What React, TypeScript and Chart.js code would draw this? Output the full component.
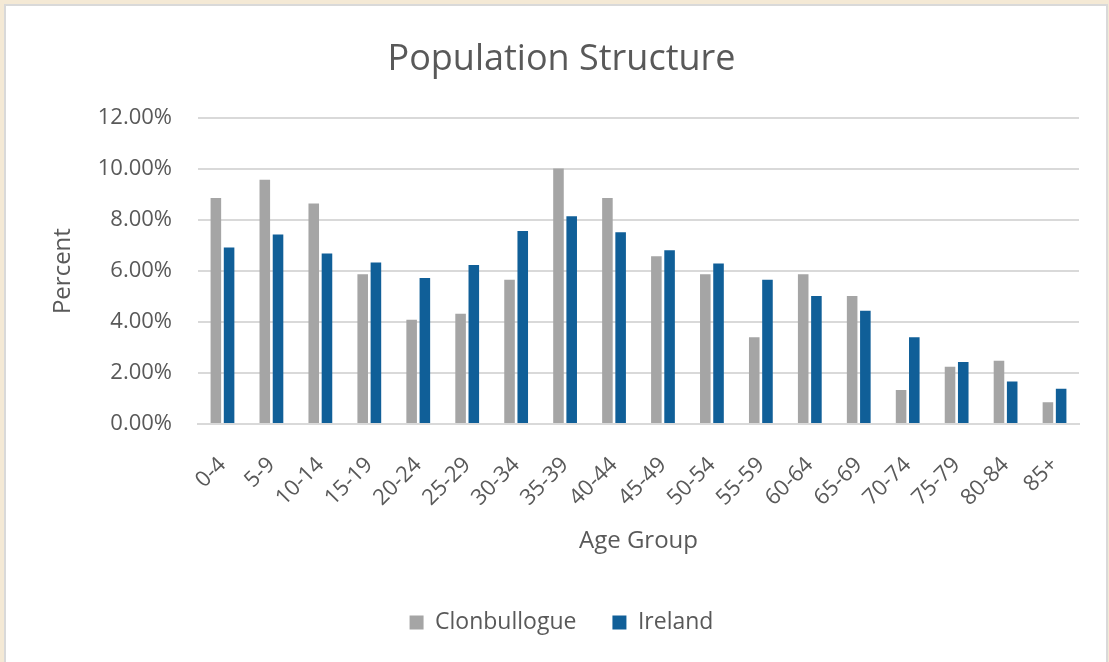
import React, { useEffect, useRef } from "react";
import { Chart, registerables } from "chart.js";

Chart.register(...registerables);

const ageGroups = ["0-4", "5-9", "10-14", "15-19", "20-24", "25-29", "30-34", "35-39", "40-44", "45-49", "50-54", "55-59", "60-64", "65-69", "70-74", "75-79", "80-84", "85+"];
const clonbullogue = [8.87, 9.58, 8.65, 5.88, 4.09, 4.33, 5.66, 10.03, 8.87, 6.58, 5.88, 3.40, 5.88, 5.02, 1.33, 2.25, 2.48, 0.85];
const ireland = [6.93, 7.44, 6.69, 6.34, 5.73, 6.24, 7.57, 8.15, 7.52, 6.82, 6.30, 5.66, 5.02, 4.44, 3.40, 2.43, 1.67, 1.38];
const yTicks = [0, 2, 4, 6, 8, 10, 12];

const FONT = "'Open Sans', 'Noto Sans', sans-serif";
const TEXT = "#595959";
const GRID = "#D9D9D9";

export default function App() {
  const ref = useRef<HTMLCanvasElement | null>(null);
  useEffect(() => {
    if (!ref.current) return;
    const chart = new Chart(ref.current, {
      type: "bar",
      data: {
        labels: ageGroups,
        datasets: [
          { label: "Clonbullogue", data: clonbullogue, backgroundColor: "#A5A5A5", categoryPercentage: 0.54, barPercentage: 0.8 },
          { label: "Ireland", data: ireland, backgroundColor: "#105F98", categoryPercentage: 0.54, barPercentage: 0.8 },
        ],
      },
      options: {
        animation: false,
        responsive: false,
        layout: { padding: { left: 38, right: 27, top: 0, bottom: 42 } },
        plugins: {
          title: {
            display: true,
            text: "Population Structure",
            color: TEXT,
            font: { family: FONT, size: 36, weight: "normal" },
            padding: { top: 32, bottom: 37 },
          },
          legend: {
            position: "bottom",
            labels: {
              color: TEXT,
              font: { family: FONT, size: 23 },
              boxWidth: 14,
              boxHeight: 14,
              padding: 36,
            },
          },
          tooltip: { enabled: false },
        },
        scales: {
          x: {
            grid: { display: false, drawTicks: false },
            border: { display: true, color: GRID, width: 2 },
            ticks: {
              color: TEXT,
              font: { family: FONT, size: 22 },
              minRotation: 45,
              maxRotation: 45,
              padding: 28,
            },
            title: {
              display: true,
              text: "Age Group",
              color: TEXT,
              font: { family: FONT, size: 24 },
              padding: { top: 4, bottom: 19 },
            },
            afterFit: (scale: any) => { scale.height = 151; },
          },
          y: {
            min: 0,
            max: 12,
            afterBuildTicks: (scale: any) => { scale.ticks = yTicks.map((v) => ({ value: v })); },
            grid: { color: GRID, lineWidth: 2, drawTicks: false },
            border: { display: false },
            ticks: {
              color: TEXT,
              font: { family: FONT, size: 22 },
              padding: 26,
              callback: (v: any) => Number(v).toFixed(2) + "%",
            },
            title: {
              display: true,
              text: "Percent",
              color: TEXT,
              font: { family: FONT, size: 24 },
              padding: { top: 5, bottom: 4 },
            },
            afterFit: (scale: any) => { scale.width = 154; },
          },
        },
      },
    });
    return () => chart.destroy();
  }, []);

  return (
    <div style={{ position: "fixed", left: 0, top: 0, width: 1109, height: 662, background: "#F4E9D5", overflow: "hidden" }}>
      <div style={{ position: "absolute", left: 4, top: 4, width: 1100, height: 680, border: "2px solid #D9D9D9", background: "#FFFFFF" }}>
        <canvas ref={ref} width={1100} height={680} style={{ display: "block" }} />
      </div>
    </div>
  );
}
